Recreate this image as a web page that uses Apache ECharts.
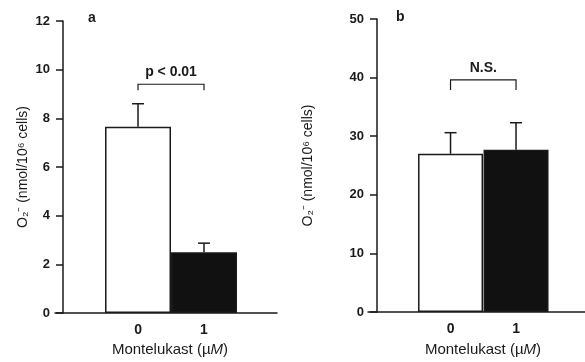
<!DOCTYPE html>
<html>
<head>
<meta charset="utf-8">
<script src="https://cdn.jsdelivr.net/npm/echarts@6/dist/echarts.min.js"></script>
<style>
    html, body { margin: 0; padding: 0; background: #fff; }
    #chart { width: 585px; height: 362px; }
</style>
</head>
<body>
<div id="chart"></div>
<script>
// data
const doses = [0, 1];
const doseLabels = ['0', '1'];
const meanA = [7.65, 2.5];
const errA = [0.95, 0.37];
const meanB = [27.0, 27.7];
const errB = [3.6, 4.6];
const bracketA = [0, 1, 9.4, 9.15];   // x from, x to, height, leg end
const bracketB = [0, 1, 39.6, 37.9];
const bracketText = ['p < 0.01', 'N.S.'];
const yMaxA = 12, yStepA = 2;
const yMaxB = 50, yStepB = 10;

const font = 'Liberation Sans, Arial, sans-serif';
const ink = '#1a1a1a';

function barData(means) {
    return means.map((v, i) => ({
        value: [doses[i], v],
        itemStyle: i === 0
            ? { color: '#fff', borderColor: ink, borderWidth: 1.5 }
            : { color: '#111', borderColor: ink, borderWidth: 1.5 }
    }));
}

function errorRender(params, api) {
    let x = api.value(0), m = api.value(1), e = api.value(2);
    let p0 = api.coord([x, m]);
    let p1 = api.coord([x, m + e]);
    return {
        type: 'group',
        children: [
            { type: 'line', shape: { x1: p0[0], y1: p0[1], x2: p1[0], y2: p1[1] }, style: { stroke: ink, lineWidth: 1.5 } },
            { type: 'line', shape: { x1: p1[0] - 6, y1: p1[1], x2: p1[0] + 6, y2: p1[1] }, style: { stroke: ink, lineWidth: 1.5 } }
        ]
    };
}

function bracketRender(params, api) {
    let a = api.coord([api.value(0), api.value(3)]);
    let b = api.coord([api.value(0), api.value(2)]);
    let c = api.coord([api.value(1), api.value(2)]);
    let d = api.coord([api.value(1), api.value(3)]);
    return {
        type: 'group',
        children: [
            { type: 'polyline', shape: { points: [a, b, c, d] }, style: { stroke: ink, lineWidth: 1.2, fill: null } },
            { type: 'text', x: (b[0] + c[0]) / 2, y: b[1] - 5, style: {
                text: bracketText[params.seriesIndex === 2 ? 0 : 1], fill: ink,
                font: 'bold 14px ' + font, align: 'center', verticalAlign: 'bottom' } }
        ]
    };
}

function xAxis(gridIndex, min, max, shift, gap) {
    return {
        type: 'value', gridIndex: gridIndex, min: min, max: max,
        splitLine: { show: false },
        axisLine: { lineStyle: { color: ink, width: 1.5 } },
        axisTick: { show: false },
        axisLabel: { customValues: doses, formatter: v => doseLabels[doses.indexOf(v)] ?? '',
            color: ink, fontFamily: font, fontSize: 14, fontWeight: 'bold', margin: 10 },
        name: 'Montelukast (\u00b5{i|M})',
        nameLocation: 'middle', nameGap: gap,
        nameTextStyle: { color: ink, fontFamily: font, fontSize: 15, padding: [0, 0, 0, shift],
            rich: { i: { fontStyle: 'italic', fontFamily: font, fontSize: 15, color: ink } } }
    };
}

function yAxis(gridIndex, max, step, offset, gap) {
    return {
        type: 'value', gridIndex: gridIndex, min: 0, max: max, interval: step,
        position: 'left', offset: offset,
        splitLine: { show: false },
        axisLine: { show: true, onZero: false, lineStyle: { color: ink, width: 1.5 } },
        axisTick: { show: true, length: 7, lineStyle: { color: ink, width: 1.5 } },
        axisLabel: { color: ink, fontFamily: font, fontSize: 13, fontWeight: 'bold', margin: 13 },
        name: 'O\u2082\u207b (nmol/10\u2076 cells)',
        nameLocation: 'middle', nameGap: gap, nameRotate: 90,
        nameTextStyle: { color: ink, fontFamily: font, fontSize: 14 }
    };
}

let option = {
    backgroundColor: '#fff',
    animation: false,
    title: [
        { text: 'a', left: 83, top: 6, textStyle: { fontFamily: font, fontSize: 14, fontWeight: 'bold', color: ink } },
        { text: 'b', left: 391, top: 5, textStyle: { fontFamily: font, fontSize: 14, fontWeight: 'bold', color: ink } }
    ],
    grid: [
        { left: 55, top: 21, width: 222, height: 294 },
        { left: 368, top: 19, width: 217, height: 294 }
    ],
    xAxis: [xAxis(0, -1.258, 2.106, 8, 29), xAxis(1, -1.26, 2.053, 13, 30)],
    yAxis: [yAxis(0, yMaxA, yStepA, -8, 33), yAxis(1, yMaxB, yStepB, -9, 62)],
    series: [
        { type: 'bar', xAxisIndex: 0, yAxisIndex: 0, barWidth: 66, data: barData(meanA) },
        { type: 'bar', xAxisIndex: 1, yAxisIndex: 1, barWidth: 65, data: barData(meanB) },
        { type: 'custom', xAxisIndex: 0, yAxisIndex: 0, renderItem: bracketRender, data: [bracketA], z: 5 },
        { type: 'custom', xAxisIndex: 1, yAxisIndex: 1, renderItem: bracketRender, data: [bracketB], z: 5 },
        { type: 'custom', xAxisIndex: 0, yAxisIndex: 0, renderItem: errorRender, z: 1,
            data: doses.map((x, i) => [x, meanA[i], errA[i]]) },
        { type: 'custom', xAxisIndex: 1, yAxisIndex: 1, renderItem: errorRender, z: 1,
            data: doses.map((x, i) => [x, meanB[i], errB[i]]) }
    ]
};

let myChart = echarts.init(document.getElementById('chart'));
myChart.setOption(option);
</script>
</body>
</html>
